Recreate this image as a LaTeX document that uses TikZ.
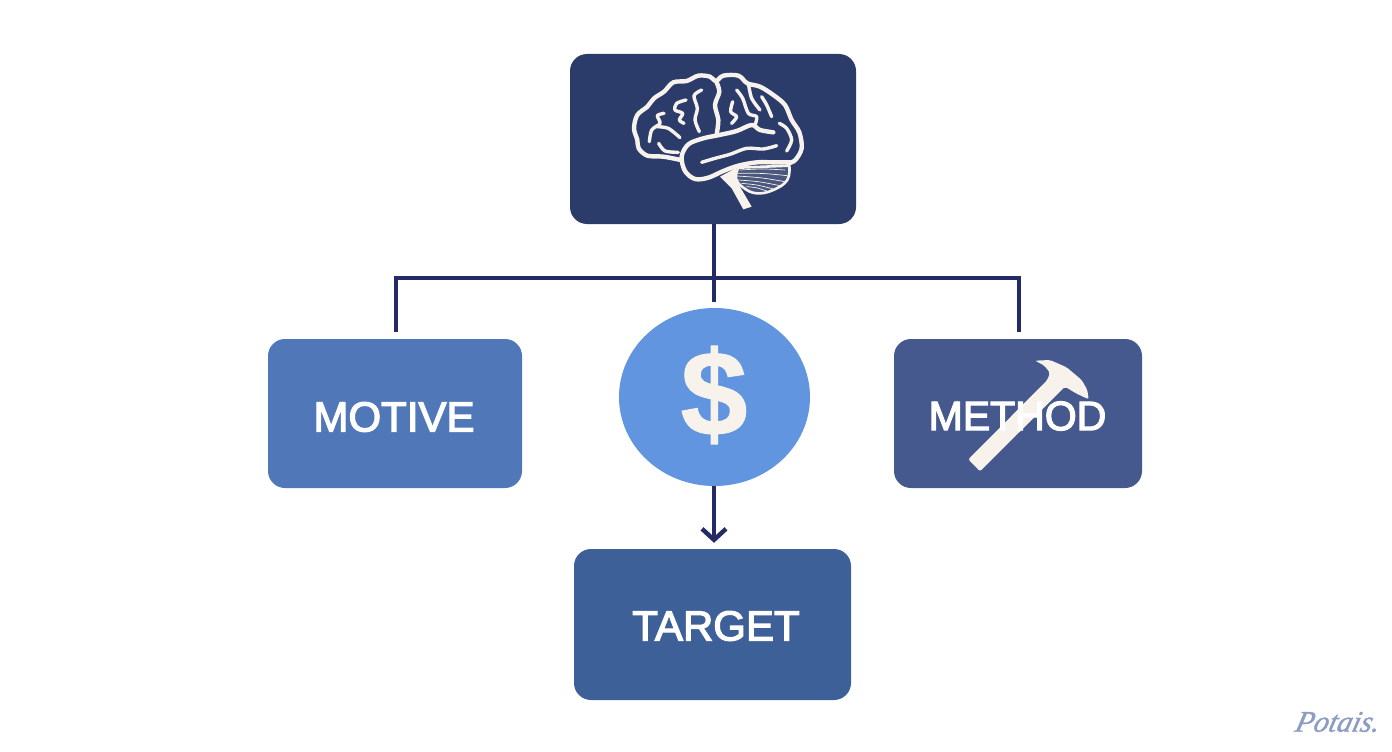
\documentclass[tikz,border=0pt]{standalone}
\usepackage{fontspec}
\setmainfont{Liberation Sans}
\newfontfamily\labfont[FakeBold=3]{Liberation Sans}
\newfontfamily\dollarfont[FakeBold=1]{Liberation Sans Bold}
\newfontfamily\logofont[FakeSlant=0.25,FakeBold=1]{Liberation Serif Italic}
\usetikzlibrary{arrows.meta,shapes.geometric}
\definecolor{navy}{HTML}{2B3C6B}
\definecolor{motivec}{HTML}{5078B8}
\definecolor{circlec}{HTML}{6195DF}
\definecolor{methodc}{HTML}{45598F}
\definecolor{targetc}{HTML}{3E6098}
\definecolor{linec}{HTML}{232A66}
\definecolor{cream}{HTML}{F7F3EC}
\definecolor{logoc}{HTML}{8C9CC2}
\tikzset{
  box/.style={draw=none,rounded corners=17pt,inner sep=0pt,text=white},
  lab/.style={text=white,inner sep=0pt,font=\labfont\fontsize{42}{42}\selectfont},
  wire/.style={draw=linec,line width=4.8pt},
  brainline/.style={draw=cream,line width=3.4pt,line cap=round,line join=round},
  brainthick/.style={draw=cream,line width=4.4pt,line cap=round,line join=round},
}
\begin{document}
\begin{tikzpicture}[x=1pt,y=-1pt]
\useasboundingbox (0,0) rectangle (1392,752);
\fill[white] (0,0) rectangle (1392,752);
% boxes
\node[box,fill=navy,minimum width=286pt,minimum height=170pt] (top) at (713,139) {};
\node[box,fill=motivec,minimum width=254pt,minimum height=149pt] (motive) at (395,413.5) {};
\node[ellipse,fill=circlec,inner sep=0pt,minimum width=191pt,minimum height=178pt] (money) at (714.5,397) {};
\node[box,fill=methodc,minimum width=248pt,minimum height=149pt] (method) at (1018,413.5) {};
\node[box,fill=targetc,minimum width=277pt,minimum height=151pt] (target) at (712.5,624.5) {};
% connectors
\coordinate (busc) at (714,278);
\coordinate (busl) at (396,278);
\coordinate (busr) at (1019,278);
\coordinate (dropl) at (396,332);
\coordinate (dropr) at (1019,332);
\coordinate (dropc) at (714,302);
\draw[wire] (top.south -| busc) -- (dropc);
\draw[wire] (dropl) -- (busl) -- (busr) -- (dropr);
\draw[wire,shorten >=6pt,-{Straight Barb[length=11pt,width=24pt,line width=4.4pt]}] (money.south -| busc) -- (target.north -| busc);
% brain, drawn in 3x crop coordinates
\begin{scope}[shift={(560,45)},x=1pt/3,y=-1pt/3]
\draw[brainthick] plot[smooth,tension=0.55] coordinates {(362,345)(310,335)(262,332)(236,310)(232,285)(222,250)(232,210)(262,185)(282,160)(312,140)(340,112)(380,108)(415,92)(450,95)(468,108)(490,92)(535,92)(562,115)(600,125)(640,150)(675,180)(695,225)(718,262)(725,310)(706,345)(685,355)};
\draw[brainthick] plot[smooth,tension=0.55] coordinates {(690,352)(640,352)(590,352)(535,362)(490,378)(445,398)(405,402)(375,378)(365,335)(385,298)(430,280)(478,270)(530,258)(575,240)(600,255)(640,262)};
\draw[brainthick] plot[smooth,tension=0.5] coordinates {(468,108)(478,140)(465,180)(475,225)(470,268)};
\draw[brainline] plot[smooth] coordinates {(425,352)(465,340)(510,328)(560,310)(610,312)(650,302)};
\draw[brainline] plot[smooth] coordinates {(425,135)(402,152)(412,190)(405,225)(418,260)};
\draw[brainline] plot[smooth] coordinates {(378,165)(350,175)(345,195)(368,205)(358,225)(372,235)};
\draw[brainline] plot[smooth] coordinates {(312,205)(292,212)(300,235)(275,255)(268,290)};
\draw[brainline] plot[smooth] coordinates {(290,245)(325,250)(360,278)};
\draw[brainline] plot[smooth] coordinates {(296,295)(315,318)(355,322)};
\draw[brainline] plot[smooth] coordinates {(518,170)(512,200)(530,215)(515,235)};
\draw[brainline] plot[smooth] coordinates {(530,135)(548,160)(565,205)(590,215)(585,240)};
\draw[brainline] plot[smooth] coordinates {(565,115)(575,160)(600,195)};
\draw[brainline] plot[smooth] coordinates {(605,155)(620,180)(635,215)};
\draw[brainline] plot[smooth] coordinates {(658,235)(680,250)(695,285)(680,318)};
% cerebellum and stem
\filldraw[draw=cream,line width=2.6pt,fill=navy!85!cream,line join=round] plot[smooth,tension=0.7] coordinates {(688,362)(682,405)(640,435)(590,445)(550,428)(528,400)(535,368)} -- cycle;
\fill[cream] (480,395) -- (530,368) -- (525,400) -- (575,485) -- (550,493) -- (515,430) -- cycle;
\foreach \a/\b/\c/\d in {540/375/675/375,535/385/682/392,530/393/675/410,535/405/660/422,545/415/640/432,560/425/620/438}
  \draw[draw=cream,line width=0.7pt,line cap=round] (\a,\b) .. controls ({(\a+\c)/2},{(\b+\d)/2-4}) .. (\c,\d);
\end{scope}
% hammer, drawn in 3x crop coordinates
\begin{scope}[shift={(890,330)},x=1pt/3,y=-1pt/3]
\fill[cream,rounded corners=2pt] (235,388) -- (472,150) -- (480,128) -- (462,106) -- (435,92) -- (480,90) -- (530,112) -- (575,150) -- (592,180) -- (596,208) -- (558,190) -- (525,170) -- (270,424) -- cycle;
\end{scope}
% labels
\node[lab] (motivelab) at (394,417) {MOTIVE};
\node[lab,font=\labfont\fontsize{41}{41}\selectfont] (methodlab) at (1017.5,416) {METHOD};
\node[lab] (targetlab) at (716,626) {TARGET};
\node[text=cream,inner sep=0pt,font=\dollarfont\fontsize{120}{120}\selectfont] (dollar) at (714,395) {\$};
\node[text=logoc,inner sep=0pt,font=\logofont\fontsize{30}{30}\selectfont] (logo) at (1336,722) {Potais.};
\end{tikzpicture}
\end{document}
